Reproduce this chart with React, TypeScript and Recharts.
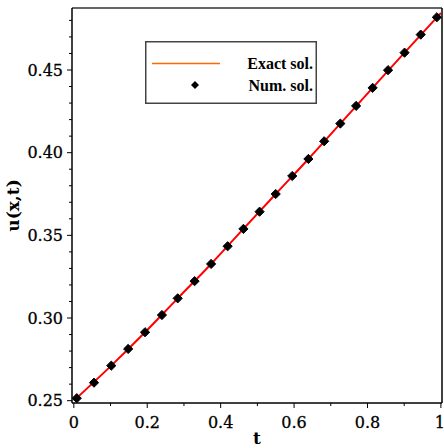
import React from "react";
import {
  ComposedChart,
  Line,
  Scatter,
  XAxis,
  YAxis,
  Legend,
  ReferenceLine,
} from "recharts";

// numerical solution points
const numT = [
  0.008, 0.055, 0.102, 0.148, 0.194, 0.24, 0.283, 0.329, 0.374, 0.419, 0.462, 0.506,
  0.55, 0.595, 0.639, 0.682, 0.726, 0.769, 0.814, 0.856, 0.901, 0.945, 0.989,
];
const numU = [
  0.2515, 0.2609, 0.2712, 0.2813, 0.2914, 0.3018, 0.3119, 0.3223, 0.3327, 0.3434, 0.3539,
  0.3643, 0.375, 0.3859, 0.3962, 0.4069, 0.4176, 0.4283, 0.4392, 0.4499, 0.4605, 0.4714,
  0.4819,
];

// exact solution curve
const exactT = [0, 0.102, 0.194, 0.283, 0.374, 0.462, 0.55, 0.639, 0.726, 0.814, 0.901, 1];
const exactU = [
  0.25, 0.2712, 0.2914, 0.3119, 0.3327, 0.3539, 0.375, 0.3962, 0.4176, 0.4392, 0.4605, 0.4845,
];

const xTicks = [0, 0.1, 0.2, 0.3, 0.4, 0.5, 0.6, 0.7, 0.8, 0.9, 1];
const xLabels = ["0", "0.2", "0.4", "0.6", "0.8", "1"];
const yTicks = [
  0.25, 0.26, 0.27, 0.28, 0.29, 0.3, 0.31, 0.32, 0.33, 0.34, 0.35, 0.36, 0.37, 0.38, 0.39,
  0.4, 0.41, 0.42, 0.43, 0.44, 0.45, 0.46, 0.47, 0.48,
];
const yLabels = ["0.25", "0.30", "0.35", "0.40", "0.45"];

const X_DOMAIN = [-0.005, 1.003];
const Y_DOMAIN = [0.2486, 0.4875];

const numData = numT.map((t, i) => ({ t, u: numU[i] }));
const exactData = exactT.map((t, i) => ({ t, u: exactU[i] }));

const FONT = "'DejaVu Serif', serif";

const YTick = (props: any) => {
  const { x, y, payload } = props;
  const label = Number(payload.value).toFixed(2);
  const major = yLabels.includes(label);
  return (
    <g>
      <line x1={x} x2={x - (major ? 5 : 3)} y1={y} y2={y} stroke="#000" strokeWidth={1} />
      {major && (
        <text x={x - 9} y={y} dy="0.35em" textAnchor="end" fontFamily={FONT} fontSize={16} fill="#000" stroke="#000" strokeWidth={0.3}>
          {label}
        </text>
      )}
    </g>
  );
};

const XTick = (props: any) => {
  const { x, y, payload } = props;
  const v = Number(payload.value);
  const label = v === 0 || v === 1 ? String(v) : v.toFixed(1);
  const major = xLabels.includes(label);
  return (
    <g>
      <line x1={x} x2={x} y1={y} y2={y + (major ? 5 : 3)} stroke="#000" strokeWidth={1} />
      {major && (
        <text x={v === 1 ? x - 1 : x} y={y + 19} dy="0.35em" textAnchor="middle" fontFamily={FONT} fontSize={16} fill="#000" stroke="#000" strokeWidth={0.3}>
          {label}
        </text>
      )}
    </g>
  );
};

const LegendBox = () => (
  <svg width={172} height={63} style={{ display: "block" }}>
    <rect x={0.75} y={0.75} width={170.5} height={61.5} fill="#fff" stroke="#444" strokeWidth={1.5} />
    <line x1={7} x2={75} y1={22.5} y2={22.5} stroke="#ff6a00" strokeWidth={1.5} />
    <text x={168} y={22.5} dy="0.35em" textAnchor="end" fontFamily="'Liberation Serif', serif" fontWeight="bold" fontSize={16}>
      Exact sol.
    </text>
    <path d="M50,40 L54,44 L50,48 L46,44 Z" fill="#000" />
    <text x={168} y={44} dy="0.35em" textAnchor="end" fontFamily="'Liberation Serif', serif" fontWeight="bold" fontSize={16}>
      Num. sol.
    </text>
  </svg>
);

const Diamond = (props: any) => {
  const { cx, cy } = props;
  if (cx == null || cy == null) return null;
  const r = 4.6;
  return (
    <path
      d={`M${cx},${cy - r} L${cx + r},${cy} L${cx},${cy + r} L${cx - r},${cy} Z`}
      fill="#000"
      stroke="#000"
      strokeWidth={1}
      strokeLinejoin="round"
    />
  );
};

export default function App() {
  return (
    <div style={{ position: "absolute", left: 0, top: 0, background: "#fff" }}>
      <ComposedChart width={444} height={448} margin={{ top: 8, right: 2, bottom: 0, left: 0 }}>
        <XAxis
          xAxisId="b"
          dataKey="t"
          type="number"
          domain={X_DOMAIN}
          ticks={xTicks}
          interval={0}
          tick={<XTick />}
          tickLine={false}
          tickSize={0}
          tickMargin={0}
          height={45}
          axisLine={{ stroke: "#000", strokeWidth: 1.5 }}
          allowDataOverflow
          label={{ value: "t", position: "insideBottom", offset: 4, fill: "#000", fontFamily: FONT, fontWeight: "bold", fontSize: 17 }}
        />
        <YAxis
          yAxisId="l"
          type="number"
          domain={Y_DOMAIN}
          ticks={yTicks}
          interval={0}
          tick={<YTick />}
          tickLine={false}
          tickSize={0}
          tickMargin={0}
          width={72}
          axisLine={{ stroke: "#000", strokeWidth: 1.5 }}
          allowDataOverflow
          label={{ value: "u(x,t)", angle: -90, position: "insideLeft", offset: 13, fill: "#000", fontFamily: FONT, fontWeight: "bold", fontSize: 17, style: { textAnchor: "middle" } }}
        />
        {/* frame: top and right borders */}
        <ReferenceLine xAxisId="b" yAxisId="l" y={Y_DOMAIN[1]} stroke="#666" strokeWidth={2} ifOverflow="extendDomain" />
        <ReferenceLine xAxisId="b" yAxisId="l" x={X_DOMAIN[1]} stroke="#000" strokeWidth={1.5} ifOverflow="extendDomain" />
        <Line
          xAxisId="b"
          yAxisId="l"
          data={exactData}
          dataKey="u"
          type="monotone"
          stroke="#ff0000"
          strokeWidth={2}
          dot={false}
          isAnimationActive={false}
          legendType="none"
        />
        <Scatter
          xAxisId="b"
          yAxisId="l"
          data={numData}
          dataKey="u"
          shape={<Diamond />}
          isAnimationActive={false}
          legendType="none"
        />
        <Legend
          layout="vertical"
          verticalAlign="middle"
          align="center"
          content={<LegendBox />}
          wrapperStyle={{ left: 145, top: 41, width: 172, height: 63 }}
        />
      </ComposedChart>
    </div>
  );
}
